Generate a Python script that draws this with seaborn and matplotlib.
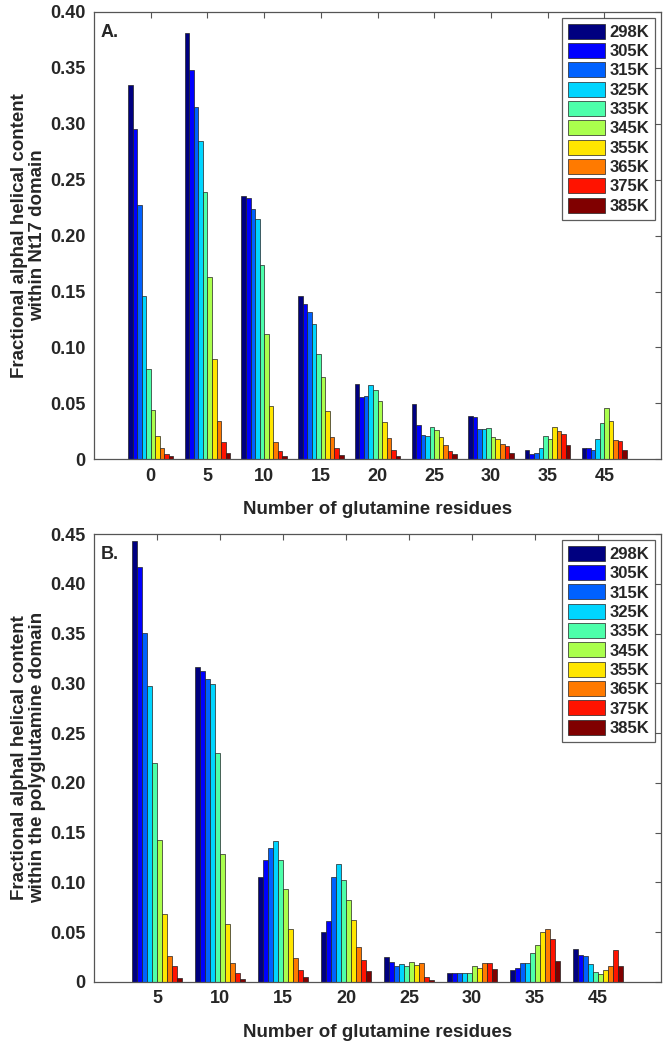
import numpy as np
import pandas as pd
import matplotlib
matplotlib.use('Agg')
import matplotlib.pyplot as plt
import seaborn as sns
from matplotlib.patches import Patch

temps = ['298K', '305K', '315K', '325K', '335K', '345K', '355K', '365K', '375K', '385K']

# panel A: helical content of Nt17, one row per glutamine count
groups_a = ['0', '5', '10', '15', '20', '25', '30', '35', '45']
nt17_helix = [
    [0.335, 0.295, 0.227, 0.146, 0.081, 0.044, 0.021, 0.010, 0.005, 0.003],
    [0.381, 0.348, 0.315, 0.285, 0.239, 0.163, 0.090, 0.034, 0.015, 0.006],
    [0.235, 0.234, 0.224, 0.215, 0.174, 0.112, 0.048, 0.015, 0.007, 0.003],
    [0.146, 0.139, 0.132, 0.121, 0.094, 0.074, 0.043, 0.020, 0.010, 0.004],
    [0.067, 0.056, 0.057, 0.066, 0.062, 0.052, 0.033, 0.019, 0.008, 0.003],
    [0.049, 0.031, 0.022, 0.021, 0.029, 0.026, 0.020, 0.013, 0.007, 0.005],
    [0.039, 0.038, 0.027, 0.027, 0.028, 0.020, 0.018, 0.014, 0.012, 0.006],
    [0.008, 0.005, 0.006, 0.010, 0.021, 0.018, 0.029, 0.025, 0.023, 0.013],
    [0.010, 0.010, 0.008, 0.018, 0.032, 0.046, 0.034, 0.017, 0.016, 0.008],
]

# panel B: helical content of the polyQ domain
groups_b = ['5', '10', '15', '20', '25', '30', '35', '45']
polyq_helix = [
    [0.443, 0.417, 0.351, 0.297, 0.220, 0.142, 0.068, 0.026, 0.016, 0.004],
    [0.316, 0.312, 0.304, 0.299, 0.230, 0.128, 0.058, 0.019, 0.009, 0.003],
    [0.105, 0.122, 0.134, 0.141, 0.122, 0.093, 0.053, 0.024, 0.012, 0.005],
    [0.050, 0.061, 0.105, 0.118, 0.102, 0.082, 0.062, 0.035, 0.022, 0.011],
    [0.025, 0.020, 0.016, 0.018, 0.016, 0.020, 0.017, 0.019, 0.005, 0.002],
    [0.009, 0.009, 0.009, 0.009, 0.009, 0.016, 0.014, 0.019, 0.019, 0.013],
    [0.012, 0.014, 0.019, 0.019, 0.029, 0.037, 0.050, 0.053, 0.043, 0.021],
    [0.033, 0.027, 0.026, 0.018, 0.010, 0.008, 0.012, 0.016, 0.032, 0.016],
]

yticks_a = [0, 0.05, 0.10, 0.15, 0.20, 0.25, 0.30, 0.35, 0.40]
ytick_labels_a = ['0', '0.05', '0.10', '0.15', '0.20', '0.25', '0.30', '0.35', '0.40']
yticks_b = [0, 0.05, 0.10, 0.15, 0.20, 0.25, 0.30, 0.35, 0.40, 0.45]
ytick_labels_b = ['0', '0.05', '0.10', '0.15', '0.20', '0.25', '0.30', '0.35', '0.40', '0.45']

sns.set_style('white')
plt.rcParams['font.family'] = ['Liberation Sans', 'DejaVu Sans']
plt.rcParams['font.weight'] = 'bold'

colors = [plt.cm.jet(i / 9) for i in range(10)]
pal = dict(zip(temps, colors))


def to_long(groups, rows):
    recs = []
    for g, row in zip(groups, rows):
        for t, v in zip(temps, row):
            recs.append({'Q': g, 'T': t, 'val': v})
    return pd.DataFrame(recs)


def draw(ax, groups, rows, yticks, ylabels, ylabel, tag):
    df = to_long(groups, rows)
    sns.barplot(data=df, x='Q', y='val', hue='T', order=groups, hue_order=temps,
                palette=pal, saturation=1, edgecolor='#222222', linewidth=0.5, width=0.8,
                errorbar=None, ax=ax, legend=False)
    ax.set_xlim(-1, len(groups))
    ax.set_ylim(yticks[0], yticks[-1])
    ax.set_yticks(yticks)
    ax.set_yticklabels(ylabels)
    ax.set_xticks(range(len(groups)))
    ax.set_xticklabels(groups)
    ax.tick_params(direction='in', length=4, width=0.8, color='#555555',
                   top=True, right=True, labelsize=13, pad=6)
    for lab in ax.get_xticklabels() + ax.get_yticklabels():
        lab.set_fontweight('bold')
    for sp in ax.spines.values():
        sp.set_color('#555555')
        sp.set_linewidth(0.9)
    ax.set_xlabel('Number of glutamine residues', fontsize=13.5, fontweight='bold', labelpad=12)
    ax.set_ylabel(ylabel, fontsize=13.5, fontweight='bold', linespacing=1.05)
    ax.yaxis.set_label_coords(-0.085, 0.5)
    ax.text(0.012, 0.945, tag, transform=ax.transAxes, fontsize=13, fontweight='bold')
    handles = [Patch(facecolor=c, edgecolor='#222222', linewidth=0.5) for c in colors]
    leg = ax.legend(handles, temps, loc='upper right', fontsize=12, frameon=True,
                    fancybox=False, edgecolor='#333333', handlelength=2.2,
                    handleheight=1.0, labelspacing=0.19, borderpad=0.35,
                    handletextpad=0.3, borderaxespad=0.35)
    leg.get_frame().set_linewidth(0.9)
    for t in leg.get_texts():
        t.set_fontweight('bold')


fig = plt.figure(figsize=(6.67, 10.5), dpi=100)
ax1 = fig.add_axes([0.141, 0.5626, 0.85, 0.4260])
ax2 = fig.add_axes([0.141, 0.065, 0.85, 0.4264])

draw(ax1, groups_a, nt17_helix, yticks_a, ytick_labels_a,
     'Fractional alphal helical content\nwithin Nt17 domain', 'A.')
draw(ax2, groups_b, polyq_helix, yticks_b, ytick_labels_b,
     'Fractional alphal helical content\nwithin the polyglutamine domain', 'B.')

fig.savefig('out.png', dpi=100)
